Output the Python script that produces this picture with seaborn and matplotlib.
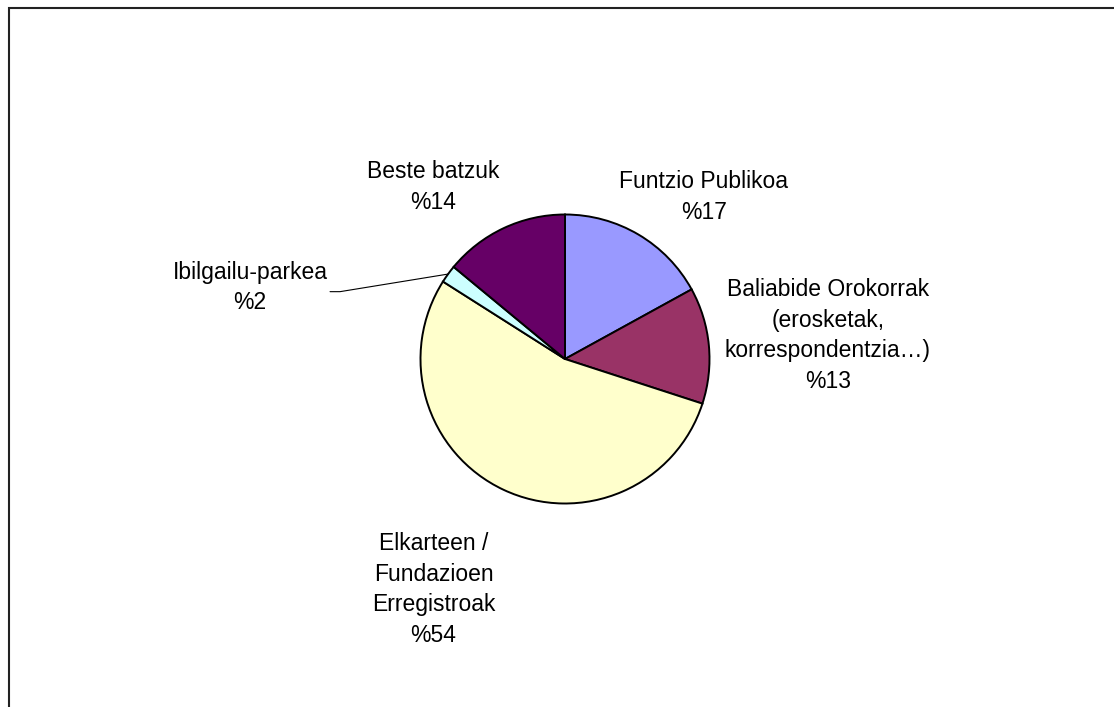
import matplotlib
matplotlib.use("Agg")
import matplotlib.pyplot as plt
import seaborn as sns
import numpy as np
from matplotlib.patches import Rectangle

# -------- DATOS --------
etiquetas = ["Funtzio Publikoa",
             "Baliabide Orokorrak\n(erosketak,\nkorrespondentzia…)",
             "Elkarteen /\nFundazioen\nErregistroak",
             "Ibilgailu-parkea",
             "Beste batzuk"]
porcentajes = [17, 13, 54, 2, 14]
colores = ["#9999FF", "#993366", "#FFFFCC", "#CCFFFF", "#660066"]

# posiciones de las etiquetas (unidades del radio)
pos_etiquetas = [(0.96, 1.12), (1.82, 0.163), (-0.91, -1.595), (-2.18, 0.495), (-0.91, 1.19)]

sns.set_theme(style="white")
plt.rcParams["font.family"] = ["Liberation Sans", "DejaVu Sans"]

fig = plt.figure(figsize=(11.14, 7.07), dpi=100)
ax = fig.add_axes([0, 0, 1, 1])

wedges, _ = ax.pie(porcentajes, colors=colores, startangle=90, counterclock=False,
                   radius=1.0, center=(0, 0),
                   wedgeprops=dict(edgecolor="black", linewidth=1.4))

escala = 144.5
ax.set_xlim(-565 / escala, (1114 - 565) / escala)
ax.set_ylim(-(707 - 359) / escala, 359 / escala)
ax.set_aspect("auto")
ax.axis("off")

for w, txt, pct, (tx, ty) in zip(wedges, etiquetas, porcentajes, pos_etiquetas):
    texto = f"{txt}\n%{pct}"
    if pct == 2:
        # linea guia para la porcion pequeña
        ang = np.deg2rad((w.theta1 + w.theta2) / 2)
        ax.plot([np.cos(ang), -1.557, -1.626], [np.sin(ang), 0.466, 0.466],
                color="black", linewidth=0.8)
    ax.text(tx, ty, texto, ha="center", va="center", fontsize=16.5,
            linespacing=1.42, color="black")

# marco del gráfico
fig.patches.append(Rectangle((8.5 / 1114, -0.1), 2, 1.1 - 8.5 / 707,
                             transform=fig.transFigure, fill=False,
                             edgecolor="#222222", linewidth=1.5))

fig.savefig("out.png", dpi=100)
